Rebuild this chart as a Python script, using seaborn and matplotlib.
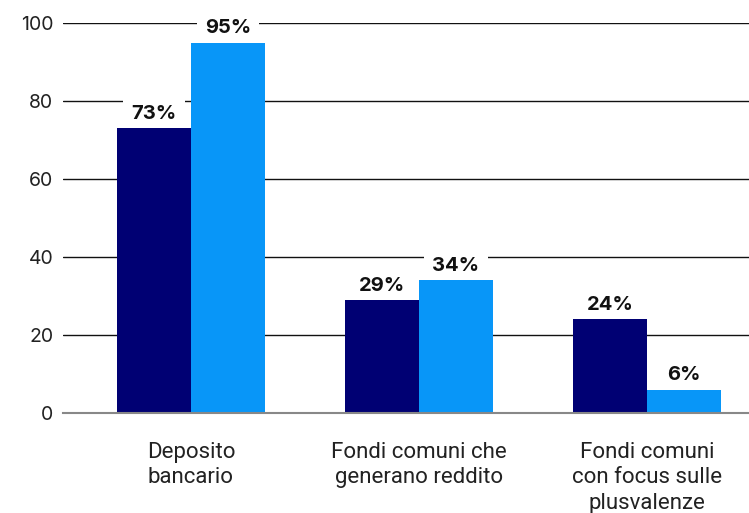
import matplotlib
matplotlib.use("Agg")
import matplotlib.pyplot as plt
import seaborn as sns
import pandas as pd

categories = ["Deposito\nbancario",
              "Fondi comuni che\ngenerano reddito",
              "Fondi comuni\ncon focus sulle\nplusvalenze"]
series_names = ["A", "B"]
values_a = [73, 29, 24]
values_b = [95, 34, 6]
y_ticks = [0, 20, 40, 60, 80, 100]
colors = ["#000073", "#0896f8"]

df = pd.DataFrame({
    "categoria": categories * 2,
    "serie": [series_names[0]] * 3 + [series_names[1]] * 3,
    "valore": values_a + values_b,
})

sns.set_theme(style="white")
plt.rcParams["font.family"] = ["Inter", "DejaVu Sans"]

fig = plt.figure(figsize=(7.49, 5.13), dpi=100)
ax = fig.add_axes([63 / 749, 100 / 513, 1 - 63 / 749, (413 - 23) / 513])

sns.barplot(data=df, x="categoria", y="valore", hue="serie", order=categories,
            hue_order=series_names, palette=colors, width=0.65,
            saturation=1, legend=False, ax=ax, zorder=3, edgecolor="none")

ax.set_ylim(0, 100)
ax.set_xlim(-0.561, 2.447)
ax.set_yticks(y_ticks)
ax.set_yticklabels([str(t) for t in y_ticks], fontsize=14, color="#222222")
ax.tick_params(axis="y", length=0, pad=7)

# horizontal gridlines behind bars
for t in y_ticks[1:]:
    ax.axhline(t, color="#111111", linewidth=1.0, zorder=1)

for side in ["top", "right", "left"]:
    ax.spines[side].set_visible(False)
ax.spines["bottom"].set_color("#888888")
ax.spines["bottom"].set_linewidth(1.5)
ax.spines["bottom"].set_zorder(4)

# category labels centred, boundary ticks between groups
ax.set_xticks(range(len(categories)))
ax.set_xticklabels(categories, fontsize=16, color="#222222", linespacing=1.27,
                   va="top", family=["Roboto", "DejaVu Sans"])
ax.tick_params(axis="x", length=0, pad=21)
ax.set_xticks([-0.5, 0.5, 1.5], minor=True)
ax.tick_params(axis="x", which="minor", length=15, width=1.3, color="#888888",
               direction="out")
ax.set_xlabel("")
ax.set_ylabel("")

# value labels above bars; the white box hides gridlines but sits under the bars
for container in ax.containers:
    for bar in container:
        h = bar.get_height()
        ax.text(bar.get_x() + bar.get_width() / 2, h + 2.4, f"{h:.0f}%",
                ha="center", va="baseline", fontsize=14.5, fontweight="bold",
                color="#111111", zorder=2, clip_on=False,
                bbox=dict(facecolor="white", edgecolor="none", pad=6))

fig.savefig("out.png", dpi=100)
